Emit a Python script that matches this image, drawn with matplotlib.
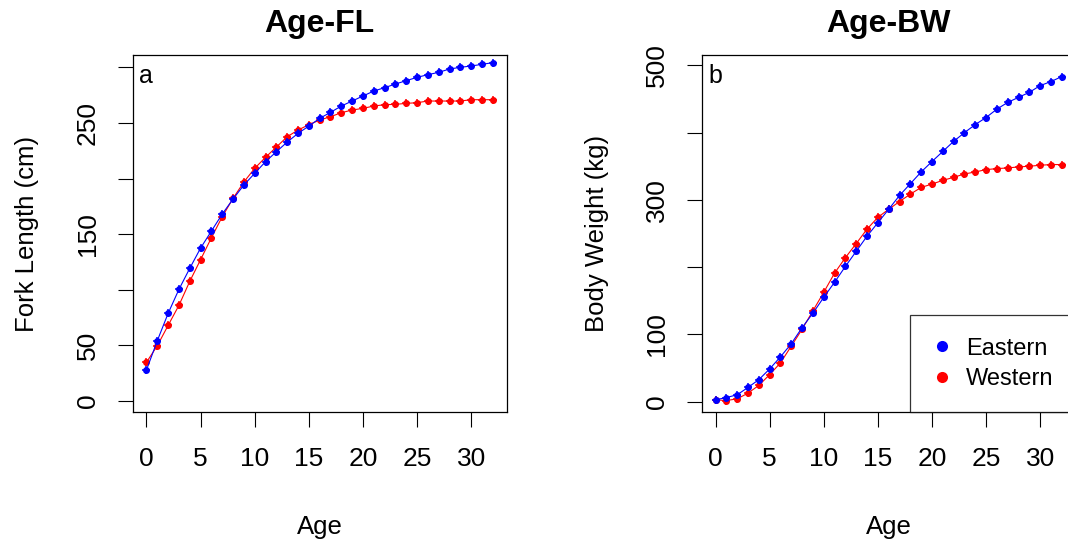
#!/usr/bin/env python3
"""Age-FL and Age-BW growth curves, Eastern vs Western"""

import numpy as np
import matplotlib

matplotlib.use("Agg")
import matplotlib.pyplot as plt
from matplotlib.lines import Line2D

ages = np.arange(0, 33)

flEastern = [27.9, 54.2, 78.8, 100.4, 119.3, 137.5, 152.8, 168.1, 181.6, 194.2,
             204.7, 215.2, 224.1, 232.8, 240.6, 247.2, 254.1, 259.5, 265.2, 269.7,
             274.2, 278.7, 281.7, 285.0, 288.0, 291.0, 293.4, 295.5, 298.5, 300.0,
             301.2, 302.7, 304.2]
flWestern = [34.8, 49.7, 68.0, 86.0, 107.6, 127.1, 146.8, 165.7, 182.2, 196.9,
             209.2, 219.1, 228.3, 237.6, 243.6, 248.4, 252.6, 255.6, 259.2, 261.6,
             263.1, 265.2, 266.4, 266.7, 267.6, 268.2, 269.7, 269.7, 269.7, 269.7,
             270.9, 270.9, 270.9]

bwEastern = [2.5, 6.0, 10.0, 21.0, 32.5, 48.5, 66.5, 86.0, 110.0, 131.5,
             155.0, 177.5, 201.0, 223.5, 246.0, 266.0, 286.0, 306.5, 324.0, 341.5,
             357.0, 372.0, 387.0, 400.0, 412.0, 422.5, 435.0, 445.0, 452.5, 460.0,
             470.0, 476.0, 483.5]
bwWestern = [2.5, 1.5, 4.0, 12.5, 24.0, 40.0, 57.5, 82.5, 107.5, 135.0,
             162.5, 191.0, 214.0, 235.0, 256.5, 274.0, 286.0, 297.5, 308.5, 318.5,
             323.5, 329.0, 333.5, 338.5, 341.5, 345.0, 346.5, 347.5, 349.0, 350.0,
             351.5, 352.5, 352.5]

xTicks = [0, 5, 10, 15, 20, 25, 30]
flTicks = [0, 50, 100, 150, 200, 250, 300]
flLabels = ["0", "50", "", "150", "", "250", ""]
bwTicks = [0, 100, 200, 300, 400, 500]
bwLabels = ["0", "100", "", "300", "", "500"]

groups = ["Eastern", "Western"]
colors = ["#0000ff", "#ff0000"]

plt.rcParams.update({"font.family": "Liberation Sans"})


def drawSeries(ax, y, color):
    """Line with dot markers and a small cross on each point"""
    ax.plot(ages, y, color=color, linewidth=0.8, marker="o", markersize=5.0,
            markeredgewidth=0)
    ax.plot(ages, y, linestyle="none", color=color, marker="+", markersize=6.0,
            markeredgewidth=1.1)


def styleAxes(ax, yticks, ylabels, ylim, ylabel, title, tag):
    """R base graphics look"""
    ax.set_xlim(-1.28, 33.28)
    ax.set_ylim(*ylim)
    ax.set_xticks(xTicks)
    ax.set_yticks(yticks)
    ax.set_yticklabels(ylabels, rotation=90, va="center")
    ax.tick_params(axis="both", length=10.8, width=0.8, labelsize=19)
    ax.tick_params(axis="x", pad=14)
    ax.tick_params(axis="y", pad=13)
    for spine in ax.spines.values():
        spine.set_linewidth(0.9)
    ax.set_xlabel("Age", fontsize=18.5, labelpad=32)
    ax.set_ylabel(ylabel, fontsize=18.5, labelpad=26)
    ax.set_title(title, fontsize=23, fontweight="bold", pad=16)
    ax.text(0.018, 0.975, tag, transform=ax.transAxes, fontsize=18,
            ha="left", va="top")


fig = plt.figure(figsize=(10.68, 5.45), dpi=100)
axFL = fig.add_axes([0.1242, 0.2435, 0.3502, 0.6562])
axBW = fig.add_axes([0.657, 0.2435, 0.3502, 0.6562])

drawSeries(axFL, flWestern, colors[1])
drawSeries(axFL, flEastern, colors[0])
styleAxes(axFL, flTicks, flLabels, (-10.2, 311.4), "Fork Length (cm)",
          "Age-FL", "a")

drawSeries(axBW, bwWestern, colors[1])
drawSeries(axBW, bwEastern, colors[0])
styleAxes(axBW, bwTicks, bwLabels, (-16, 516), "Body Weight (kg)",
          "Age-BW", "b")

handles = [
    Line2D([], [], linestyle="none", marker="o", markersize=8, color=c,
           markeredgewidth=0)
    for c in colors
]
leg = axBW.legend(handles, groups, loc="lower right", bbox_to_anchor=(1, 0),
                  borderaxespad=0, fontsize=17, frameon=True, fancybox=False,
                  handlelength=0.8, handletextpad=0.6, labelspacing=0.35,
                  borderpad=0.95)
leg.get_frame().set_edgecolor("black")
leg.get_frame().set_linewidth(0.9)

fig.savefig("out.png", dpi=100)
